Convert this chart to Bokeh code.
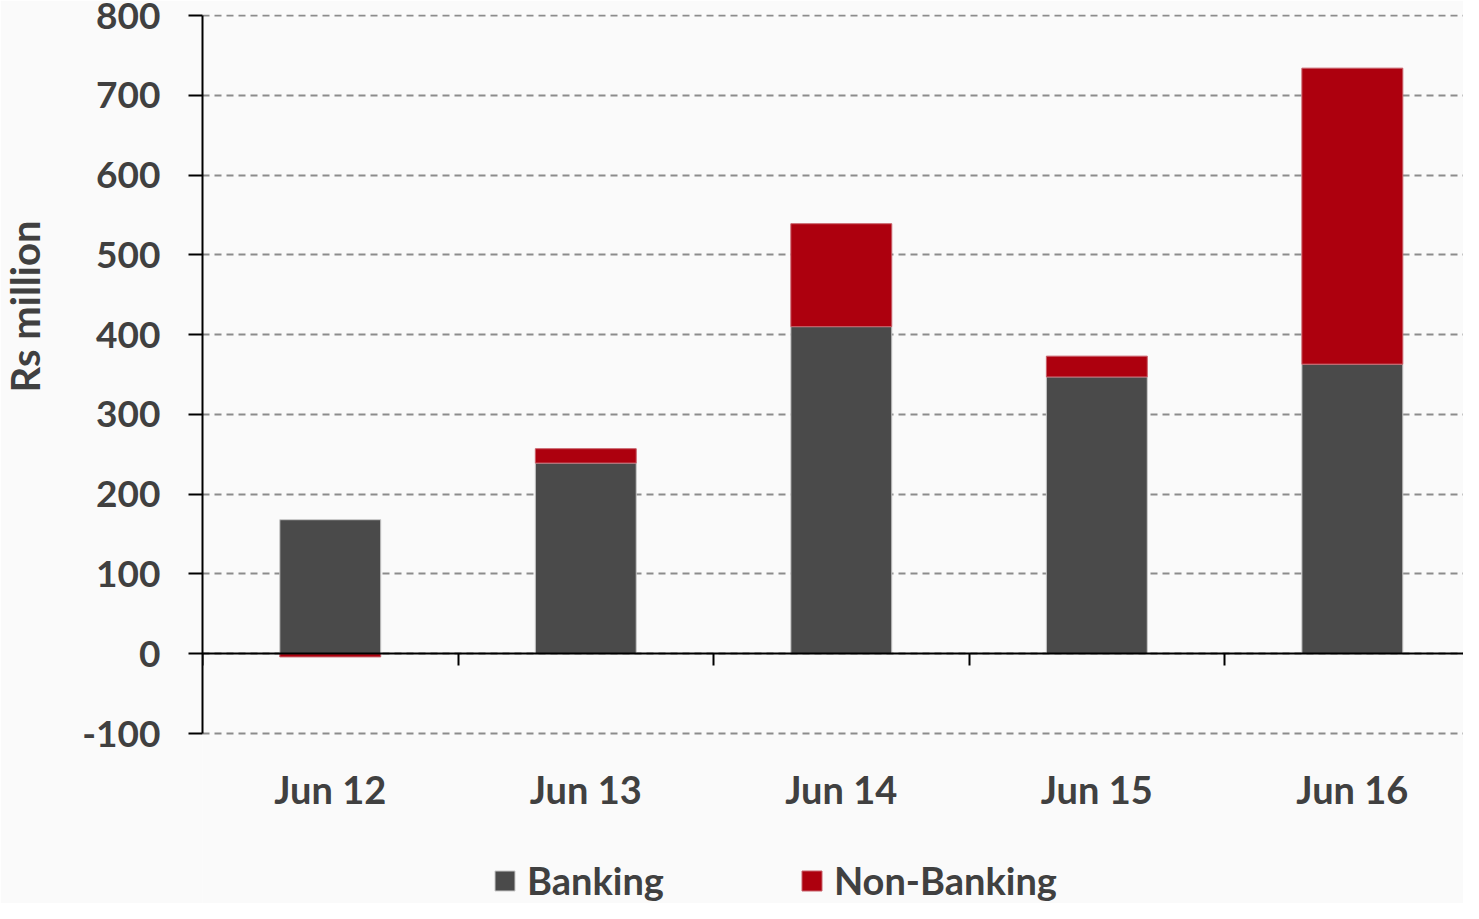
from bokeh.plotting import figure
from bokeh.models import Range1d, LinearAxis, FixedTicker, Legend, LegendItem, Title
from bokeh.embed import file_html
from bokeh.resources import INLINE
import numpy as np

categories = ["Jun 12", "Jun 13", "Jun 14", "Jun 15", "Jun 16"]
banking = [168, 239, 410, 347, 363]
non_banking = [-4, 18, 129, 26, 371]
y_ticks = [-100, 0, 100, 200, 300, 400, 500, 600, 700, 800]
y_labels = ["-100", "0", "100", "200", "300", "400", "500", "600", "700", "800"]

FONT = "Lato"
TXT = "#404040"

# layout constants (pixels)
W, H = 1463, 903
TOP = 14            # frame top
AXIS_PX = 718       # pixel span of the -100..800 axis
BELOW_PX = H - TOP - AXIS_PX - 1  # room below the -100 line for labels and legend
k = AXIS_PX / (y_ticks[-1] - y_ticks[0])

x = np.arange(len(categories)) + 0.5
b = np.array(banking, dtype=float)
nb = np.array(non_banking, dtype=float)
pos_base = np.where(b >= 0, b, 0)
neg_base = np.where(b < 0, b, 0)
nb_bottom = np.where(nb >= 0, pos_base, neg_base)
nb_top = nb_bottom + nb

p = figure(width=W, height=H, x_range=Range1d(0, 4.935),
           y_range=Range1d(y_ticks[0] - BELOW_PX / k, y_ticks[-1] + 1 / k),
           output_backend="svg", toolbar_location=None,
           min_border_left=202, min_border_right=0, min_border_top=TOP, min_border_bottom=0)
p.background_fill_color = "#fafafa"
p.border_fill_color = "#fafafa"
p.outline_line_color = None

r1 = p.vbar(x=x, width=0.395, bottom=0, top=b, fill_color="#4a4a4a", line_color="#c8c8c8", line_width=1)
r2 = p.vbar(x=x, width=0.395, bottom=nb_bottom, top=nb_top, fill_color="#ad000e", line_color="#c8606a", line_width=1)

# category labels axis, fixed at the -100 line
xa = p.xaxis[0]
xa.fixed_location = y_ticks[0]
xa.ticker = FixedTicker(ticks=list(x))
xa.major_label_overrides = {float(v): c for v, c in zip(x, categories)}
xa.axis_line_color = None
xa.major_tick_line_color = None
xa.minor_tick_line_color = None
xa.major_label_standoff = 26
xa.major_label_text_font = FONT
xa.major_label_text_font_style = "bold"
xa.major_label_text_font_size = "38px"
xa.major_label_text_color = TXT

# zero line axis with category-boundary ticks
zax = LinearAxis(fixed_location=0, ticker=FixedTicker(ticks=list(range(len(categories) + 1))),
                 major_tick_out=12, major_tick_in=0, major_tick_line_width=2, major_tick_line_color="black",
                 axis_line_width=2, axis_line_color="black", minor_tick_line_color=None,
                 major_label_text_alpha=0, major_label_text_font_size="10px")
p.add_layout(zax, "below")

ya = p.yaxis[0]
ya.bounds = (y_ticks[0], y_ticks[-1])
ya.ticker = FixedTicker(ticks=y_ticks)
ya.major_label_overrides = {t: s for t, s in zip(y_ticks, y_labels)}
ya.axis_line_width = 2
ya.axis_line_color = "black"
ya.major_tick_out = 14
ya.major_tick_in = 0
ya.major_tick_line_width = 2
ya.minor_tick_line_color = None
ya.major_label_standoff = 28
ya.major_label_text_font = FONT
ya.major_label_text_font_style = "bold"
ya.major_label_text_font_size = "37px"
ya.major_label_text_color = TXT
# blank spacer label to push the title further left
ya.axis_label = " "
ya.axis_label_text_font_size = "1px"
ya.axis_label_standoff = 25

ytitle = Title(text="Rs million", align="right", vertical_align="top", offset=206, standoff=0,
               text_font=FONT, text_font_style="bold", text_font_size="40px", text_color=TXT)
p.add_layout(ytitle, "left")

p.xgrid.visible = False
p.ygrid.grid_line_color = "#8c8c8c"
p.ygrid.grid_line_width = 2
p.ygrid.grid_line_dash = "7 5"

legend = Legend(items=[LegendItem(label="Banking", renderers=[r1]),
                       LegendItem(label="Non-Banking", renderers=[r2])],
                orientation="horizontal", location=(290, 0), padding=0, margin=0,
                label_text_font=FONT, label_text_font_style="bold", label_text_font_size="38px",
                label_text_color=TXT, glyph_width=25, glyph_height=25, label_standoff=10,
                spacing=135, background_fill_alpha=0, border_line_color=None)
p.add_layout(legend)

open("out.html", "w").write(file_html(p, INLINE))
